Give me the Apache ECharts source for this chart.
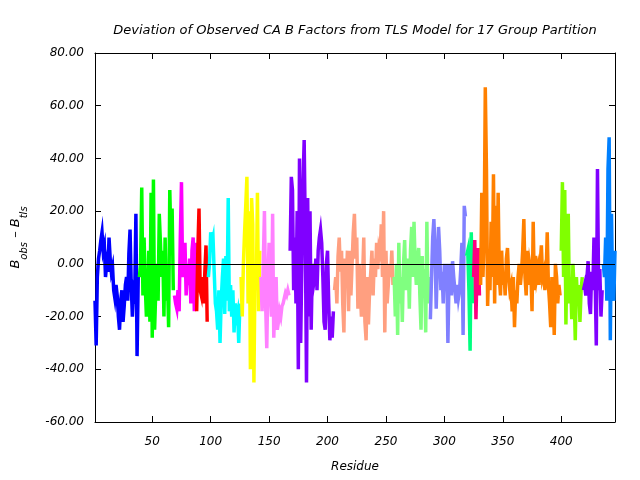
<!DOCTYPE html>
<html>
<head>
<meta charset="utf-8">
<script src="https://cdn.jsdelivr.net/npm/echarts@6/dist/echarts.min.js"></script>
<style>
  html, body { margin: 0; padding: 0; background: #fff; }
  #chart { width: 640px; height: 480px; }
</style>
</head>
<body>
<div id="chart"></div>
<script>
// first residue of each TLS group and its colour
var groupStarts = [1, 39, 69, 88, 98, 126, 143, 168, 206, 257, 288, 319, 325, 331, 400, 419, 436];
var groupColors = ["#0000ff", "#00ff00", "#ff00ff", "#ff0000", "#00ffff", "#ffff00", "#ff80ff", "#8000ff",
  "#ff9f80", "#80ff80", "#8080ff", "#00ff80", "#ff0080", "#ff8000", "#80ff00", "#8000ff", "#0080ff"];

// B_obs - B_tls per residue, one array per group
var group01 = [-14, -31, -5, 2, 5, 9, 12, 5, 7, -5, 0, -3, 10, 2, -3, -1, -10, -13, -8, -12, -20, -25, -14, -10, -22, -16, -8, -5, -14, 4, 13, -8, -20, -10, -12, 19, -35, -5];
var group02 = [-5, 0, 29, -12, 10, -8, -20, -15, 5, -22, 27, -28, 32, -25, -10, 0, -14, 19, 8, -5, 5, -20, 10, -14, -5, -24, 28, 8, 21, -10];
var group03 = [-12, -15, -17, -10, -18, 10, 31, -5, 0, 8, -12, -3, -5, 2, -15, 5, 10, -18, 8];
var group04 = [-18, 5, 21, -10, -12, -5, -15, -3, 7, -22];
var group05 = [-5, 0, 12, 8, 10, -3, -15, -18, -25, -10, -30, -14, -5, 2, -19, 3, -14, 25, -18, -8, -20, -10, -26, -15, -20, -18, -30, -15];
var group06 = [-5, -20, 0, 12, 22, 33, -15, 20, -40, 25, 15, -45, 0, -10, 27, -18, 5];
var group07 = [-5, -18, 0, 20, -15, -32, -5, 8, -10, -20, 19, -28, -12, -5, -25, -22, -18, -20, -16, -15, -13, -11, -12, -10, -12];
var group08 = [5, 33, 28, -10, 10, -15, 20, -40, 40, -30, 0, 30, 47, 10, -45, 25, -20, 20, -25, 0, -8, -5, 2, -10, 5, 10, 13, 8, -5, -22, -25, 0, 5, -15, -29, -20, -28, -18];
var group09 = [-10, -5, -15, 3, 10, -3, 5, -15, -26, 2, -8, 5, -18, 5, -12, 0, 12, 19, 2, 10, -17, 0, -10, -20, -5, 10, -22, -29, -5, -23, -10, -3, 5, -12, 2, -5, 8, -2, 6, 4, 15, -5, 20, -26, 5, -15, -8, 0, -5, 5, -8];
var group10 = [-5, -20, 0, -27, 8, -15, -5, -22, 0, 9, -10, -5, 2, -17, 5, 14, -5, 16, 0, -8, 2, 6, -12, -25, 3, -10, -2, -26, 16, -15, -5];
var group11 = [-21, -5, 10, 17, 5, -17, 0, 14, 5, -10, -3, -15, 0, -8, 0, -30, -5, 0, -12, 1, -5, -10, -15, -8, -13, -10, -2, 8, -27, 22, 18];
var group12 = [3, 5, -10, -33, 12, -15];
var group13 = [-5, 9, -21, 0, 6, -12];
var group14 = [-8, 27, -5, 10, 67, 36, -16, 0, -10, 16, -5, 34, -15, 22, -8, 27, -5, -12, 5, -8, -3, -12, 2, 6, -5, -10, -8, -18, -5, -24, -10, -15, -5, 0, -8, -3, 5, 17, -5, -12, 5, -8, 0, -3, -18, 16, -10, 3, -5, -2, -8, 0, 7, -5, -3, -10, -5, 12, -8, -15, -24, -5, -10, -27, 0, -5, -15, -8, -12];
var group15 = [5, 31, -5, 28, -23, 10, 19, -15, -5, -21, 0, -10, -29, -5, -15, -8, -22, -10, -5];
var group16 = [-10, -8, -12, -5, 1, -15, -19, -3, -10, 10, -5, -31, 36, -10, -2, -20, -10];
var group17 = [0, -5, 10, -14, 36, 48, -29, 19, -10, -14, 5];

var groupValues = [group01, group02, group03, group04, group05, group06, group07, group08, group09,
  group10, group11, group12, group13, group14, group15, group16, group17];

var xTicks = [50, 100, 150, 200, 250, 300, 350, 400];

var chartFont = "DejaVu Sans";

var series = groupValues.map(function (vals, g) {
  return {
    type: "line",
    data: vals.map(function (v, i) { return [groupStarts[g] + i, v]; }),
    symbol: "none",
    lineStyle: { color: groupColors[g], width: 3.5, join: "miter", cap: "butt" },
    itemStyle: { color: groupColors[g] },
    z: 3
  };
});
// zero line
series.push({
  type: "line",
  data: [],
  markLine: {
    silent: true,
    symbol: "none",
    label: { show: false },
    lineStyle: { color: "#000", width: 1, type: "solid" },
    data: [{ yAxis: 0 }]
  },
  z: 2
});

var frameLine = { show: true, onZero: false, lineStyle: { color: "#000", width: 1 } };
var tickStyle = { color: "#000", width: 1 };

var myChart = echarts.init(document.getElementById("chart"));
var option = {
  animation: false,
  backgroundColor: "#fff",
  title: {
    text: "Deviation of Observed CA B Factors from TLS Model for 17 Group Partition",
    left: 350,
    textAlign: "center",
    top: 19,
    textStyle: { fontFamily: chartFont, fontStyle: "italic", fontWeight: "normal", fontSize: 13, color: "#000" }
  },
  grid: { left: 95, right: 25, top: 53, bottom: 58, outerBoundsMode: "none", containLabel: false },
  xAxis: [{
    type: "value",
    min: 1, max: 446,
    name: "Residue",
    nameLocation: "middle",
    nameGap: 39,
    nameTextStyle: { fontFamily: chartFont, fontStyle: "italic", fontSize: 12, color: "#000" },
    axisLine: frameLine,
    axisTick: { inside: true, length: 6, customValues: xTicks, lineStyle: tickStyle },
    axisLabel: {
      customValues: xTicks, margin: 14,
      fontFamily: chartFont, fontStyle: "italic", fontSize: 12, color: "#000"
    },
    splitLine: { show: false }
  }, {
    type: "value",
    position: "top",
    min: 1, max: 446,
    axisLine: frameLine,
    axisTick: { inside: true, length: 6, customValues: xTicks, lineStyle: tickStyle },
    axisLabel: { show: false },
    splitLine: { show: false }
  }],
  yAxis: [{
    type: "value",
    min: -60, max: 80, interval: 20,
    name: "{b|B}{s|obs}{b| \u2013 B}{s|tls}",
    nameLocation: "middle",
    nameGap: 66,
    nameRotate: 90,
    nameTextStyle: {
      fontFamily: chartFont, fontStyle: "italic", fontSize: 13, color: "#000",
      rich: {
        b: { fontFamily: chartFont, fontStyle: "italic", fontSize: 13, color: "#000", verticalAlign: "top", lineHeight: 15 },
        s: { fontFamily: chartFont, fontStyle: "italic", fontSize: 10, color: "#000", verticalAlign: "bottom", lineHeight: 20 }
      }
    },
    axisLine: frameLine,
    axisTick: { inside: true, length: 6, lineStyle: tickStyle },
    axisLabel: {
      margin: 11,
      formatter: function (v) { return v.toFixed(2); },
      fontFamily: chartFont, fontStyle: "italic", fontSize: 12, color: "#000"
    },
    splitLine: { show: false }
  }, {
    type: "value",
    position: "right",
    min: -60, max: 80, interval: 20,
    axisLine: frameLine,
    axisTick: { inside: true, length: 6, lineStyle: tickStyle },
    axisLabel: { show: false },
    splitLine: { show: false }
  }],
  series: series
};
myChart.setOption(option);
</script>
</body>
</html>
